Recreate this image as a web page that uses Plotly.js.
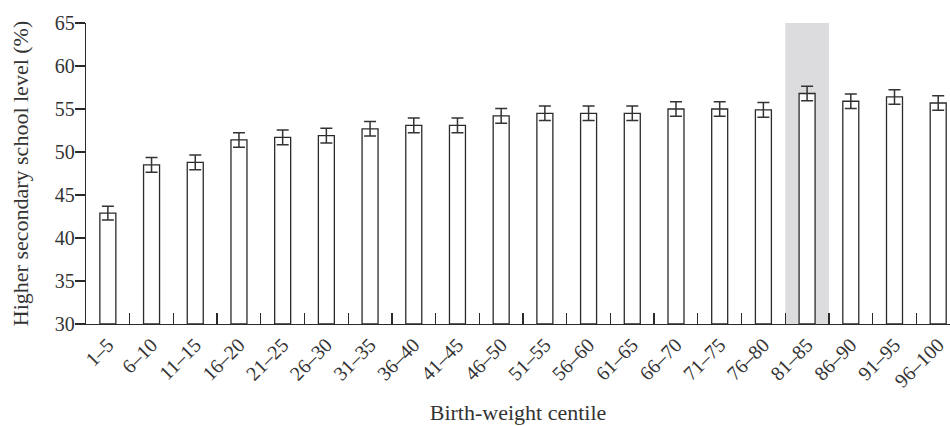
<!DOCTYPE html>
<html>
<head>
<meta charset="utf-8">
<script src="https://cdn.plot.ly/plotly-3.0.1.min.js"></script>
<style>html,body{margin:0;padding:0;background:#fff;}#chart{width:950px;height:426px;}</style>
</head>
<body>
<div id="chart"></div>
<script>
var categories = ["1–5","6–10","11–15","16–20","21–25","26–30","31–35","36–40","41–45","46–50","51–55","56–60","61–65","66–70","71–75","76–80","81–85","86–90","91–95","96–100"];
var values = [42.9, 48.5, 48.8, 51.4, 51.7, 51.9, 52.7, 53.1, 53.1, 54.2, 54.5, 54.5, 54.5, 55.0, 55.0, 54.9, 56.8, 55.9, 56.4, 55.7];
var errors = [0.8, 0.85, 0.85, 0.85, 0.85, 0.85, 0.85, 0.85, 0.85, 0.85, 0.85, 0.85, 0.85, 0.85, 0.85, 0.85, 0.85, 0.85, 0.85, 0.85];
var highlighted = "81–85";
var yTicks = [30, 35, 40, 45, 50, 55, 60, 65];

var hi = categories.indexOf(highlighted);
var font = "Liberation Serif, Times New Roman, serif";
var baseValue = 30;

var trace = {
  type: "bar",
  x: categories,
  y: values.map(function(v){ return v - baseValue; }),
  base: baseValue,
  marker: {color: "#ffffff", line: {color: "#2a2a2a", width: 1.3}},
  error_y: {type: "data", array: errors, visible: true, color: "#333333", thickness: 1.5, width: 6},
  hoverinfo: "x+y"
};

var layout = {
  width: 950, height: 426,
  margin: {l: 86, r: 0, t: 23, b: 102},
  paper_bgcolor: "#ffffff", plot_bgcolor: "rgba(0,0,0,0)",
  font: {family: font, color: "#333333", size: 20},
  showlegend: false,
  bargap: 0.634,
  xaxis: {
    type: "category",
    range: [-0.5, 19.27],
    showline: true, linecolor: "#2a2a2a", linewidth: 1.3,
    ticks: "inside", tickson: "boundaries", ticklen: 11, tickcolor: "#2a2a2a", tickwidth: 1.3,
    tickangle: -45,
    tickfont: {family: font, size: 20, color: "#333333"},
    showgrid: false, zeroline: false,
    title: {text: "Birth-weight centile", font: {family: font, size: 22, color: "#333333"}, standoff: 14}
  },
  yaxis: {
    range: [30, 65],
    tickvals: yTicks,
    ticktext: yTicks.map(String),
    showline: true, linecolor: "#2a2a2a", linewidth: 1.3,
    ticks: "outside", ticklen: 10, tickcolor: "#2a2a2a", tickwidth: 1.3,
    ticklabelstandoff: -4,
    tickfont: {family: font, size: 20, color: "#333333"},
    showgrid: false, zeroline: false,
    title: {text: "Higher secondary school level (%)", font: {family: font, size: 22, color: "#333333"}, standoff: 20}
  },
  shapes: [{
    type: "rect", layer: "below", xref: "x", yref: "y",
    x0: hi - 0.5, x1: hi + 0.5, y0: 30, y1: 65,
    fillcolor: "#dcdcde", line: {width: 0}
  }]
};

Plotly.newPlot("chart", [trace], layout, {displayModeBar: false, staticPlot: true});
</script>
</body>
</html>
